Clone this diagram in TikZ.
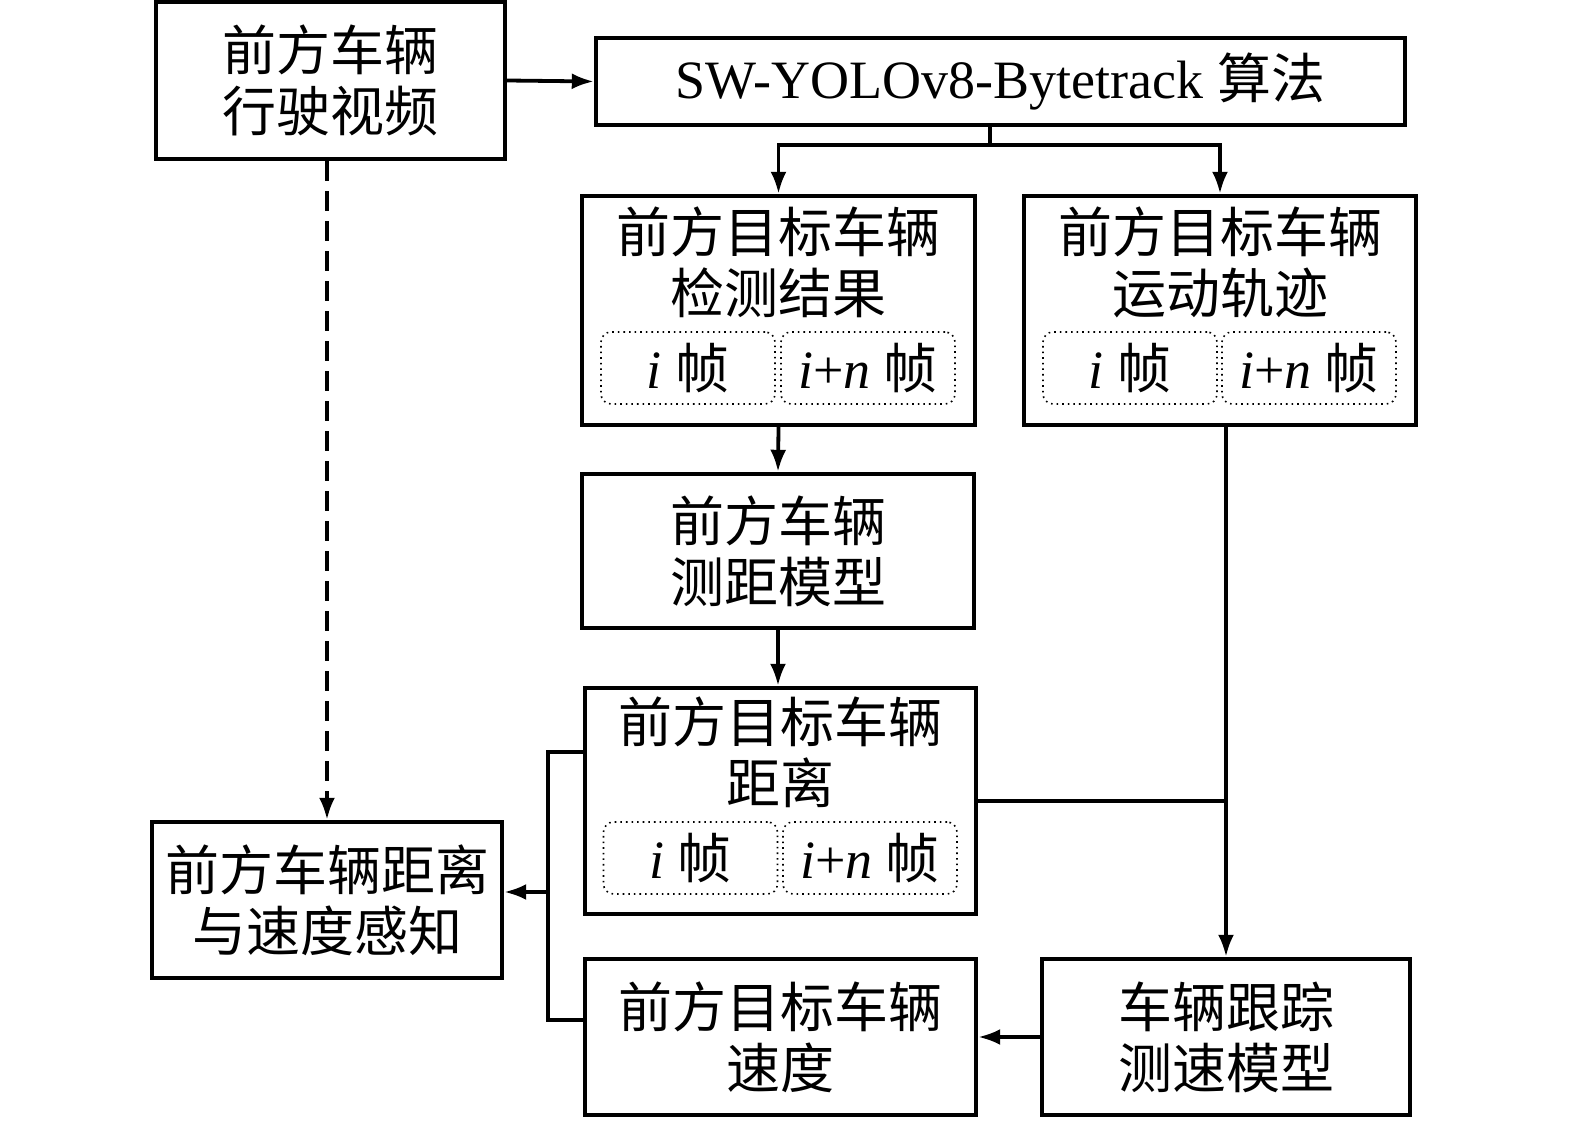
\documentclass[tikz,border=0pt]{standalone}
\usepackage{fontspec}
\setmainfont{Liberation Serif}
\newfontfamily\cjk{Noto Sans CJK SC}
\usetikzlibrary{arrows.meta,calc}
\begin{document}
\begin{tikzpicture}[x=0.5pt,y=-0.5pt,
  box/.style={draw,line width=2.2pt,inner sep=0pt,align=center,font=\fontsize{27}{30.5}\selectfont\cjk},
  txt/.style={align=center,font=\fontsize{27}{30.5}\selectfont\cjk},
  frm/.style={draw,dotted,line width=0.8pt,rounded corners=5pt,minimum width=87pt,minimum height=36pt,font=\fontsize{27}{30}\selectfont},
  ln/.style={line width=1.9pt},
  arr/.style={ln,-{Latex[length=11pt,width=8pt]}}]
\useasboundingbox (0,0) rectangle (1575,1122);
% boxes
\node[box,minimum width=174.5pt,minimum height=78.5pt] (video) at (330.5,80.5) {前方车辆\\行驶视频};
\node[box,minimum width=404.5pt,minimum height=43.5pt,font=\fontsize{27}{30.5}\selectfont] (algo) at (1000.5,81.5) {SW-YOLOv8-Bytetrack {\cjk 算法}};
\node[box,minimum width=196.5pt,minimum height=114.5pt] (det) at (778.5,310.5) {};
\node[txt] (dettxt) at (778.5,262.5) {前方目标车辆\\检测结果};
\node[frm] (deti) at (688,368) {\textit{i} {\cjk 帧}};
\node[frm] (detn) at (868,368) {\textit{i}+\textit{n} {\cjk 帧}};
\node[box,minimum width=196pt,minimum height=114.5pt] (trk) at (1220,310.5) {};
\node[txt] (trktxt) at (1220,262.5) {前方目标车辆\\运动轨迹};
\node[frm] (trki) at (1130,368) {\textit{i} {\cjk 帧}};
\node[frm] (trkn) at (1309,368) {\textit{i}+\textit{n} {\cjk 帧}};
\node[box,minimum width=196pt,minimum height=77pt] (rng) at (778,551) {前方车辆\\测距模型};
\node[box,minimum width=195.5pt,minimum height=113pt] (dist) at (780.5,801) {};
\node[txt] (disttxt) at (780.5,752) {前方目标车辆\\距离};
\node[frm] (disti) at (690.5,858) {\textit{i} {\cjk 帧}};
\node[frm] (distn) at (870,858) {\textit{i}+\textit{n} {\cjk 帧}};
\node[box,minimum width=175pt,minimum height=78pt] (perc) at (327,900) {前方车辆距离\\与速度感知};
\node[box,minimum width=195.5pt,minimum height=78pt] (vel) at (780.5,1037) {前方目标车辆\\速度};
\node[box,minimum width=184pt,minimum height=78pt] (spd) at (1226,1037) {车辆跟踪\\测速模型};
% connectors
\coordinate (split) at (990,145);
\coordinate (join) at (548,892);
\draw[arr] (video.east) -- (algo.west);
\draw[ln] (algo.south -| split) -- (split);
\draw[arr] (split) -| (det.north);
\draw[arr] (split) -| (trk.north);
\draw[arr] (det.south) -- (rng.north);
\draw[arr] (rng.south) -- (rng.south |- dist.north);
\draw[arr] (trk.south -| spd.north) -- (spd.north);
\draw[ln] (dist.east) -- (dist.east -| spd.north);
\draw[arr] (spd.west) -- (vel.east);
\draw[ln] ($(dist.west)+(0,-49)$) -| (join) |- ($(vel.west)+(0,-17)$);
\draw[arr] (join) -- (join -| perc.east);
\draw[arr,dash pattern=on 10pt off 5pt] (video.south -| perc.north) -- (perc.north);
\end{tikzpicture}
\end{document}
